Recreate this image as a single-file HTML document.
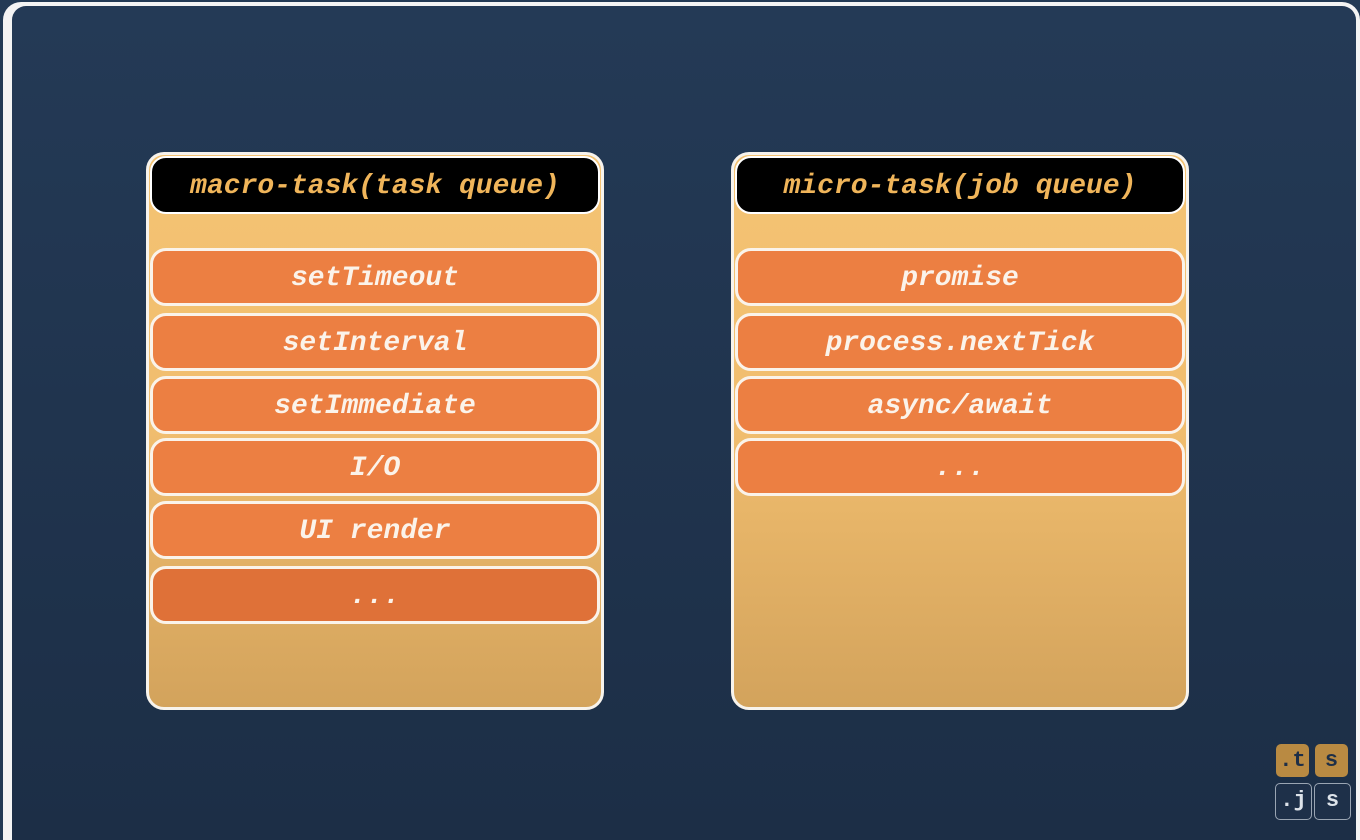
<!DOCTYPE html>
<html><head><style>
html,body{margin:0;padding:0;width:1360px;height:840px;overflow:hidden;background:#233a55;position:relative;}
.frame{position:absolute;left:3px;top:2px;width:1357px;height:838px;background:#f4f4f4;border-radius:18px 18px 0 0;}
.inner{position:absolute;left:12px;top:6px;width:1344px;height:834px;background:linear-gradient(#243a56,#1c2e46);border-radius:14px 14px 0 0;}
.panel{position:absolute;top:152px;width:452px;height:552px;border:3px solid #f7f3ec;border-radius:18px;background:linear-gradient(#f4c373 0%,#f0bd6e 50%,#d3a35c 100%);}
.hdr{position:absolute;left:1px;top:1px;right:1px;height:54px;background:#000;border-radius:16px;border:2px solid #fff;color:#f0b55a;font:italic bold 28px "Liberation Mono",monospace;text-align:center;line-height:58px;}
.item{position:absolute;left:1px;width:444px;height:52px;background:#ec7f42;border:3px solid #faf3ea;border-radius:16px;color:#fbf3ea;font:italic bold 28px "Liberation Mono",monospace;text-align:center;line-height:55px;}
.b{position:absolute;width:33px;height:33px;border-radius:5px;font:bold 22px "Liberation Mono",monospace;text-align:center;line-height:33px;}
.o{background:#b98a42;color:#1e2f47;}
.n{border:1px solid #9aa5b3;color:#dde3ea;width:35px;height:35px;background:#1e3049;}
</style></head><body>
<div class="frame"></div>
<div class="inner"></div>
<div class="panel" style="left:146px">
<div class="hdr">macro-task(task queue)</div>
<div class="item" style="top:93px">setTimeout</div>
<div class="item" style="top:158px">setInterval</div>
<div class="item" style="top:221px">setImmediate</div>
<div class="item" style="top:283px">I/O</div>
<div class="item" style="top:346px">UI render</div>
<div class="item" style="top:411px;background:#df7138">...</div>
</div>
<div class="panel" style="left:731px">
<div class="hdr">micro-task(job queue)</div>
<div class="item" style="top:93px">promise</div>
<div class="item" style="top:158px">process.nextTick</div>
<div class="item" style="top:221px">async/await</div>
<div class="item" style="top:283px">...</div>
</div>
<div class="b o" style="left:1276px;top:744px">.t</div>
<div class="b o" style="left:1315px;top:744px">s</div>
<div class="b n" style="left:1275px;top:783px">.j</div>
<div class="b n" style="left:1314px;top:783px">s</div>
</body></html>
